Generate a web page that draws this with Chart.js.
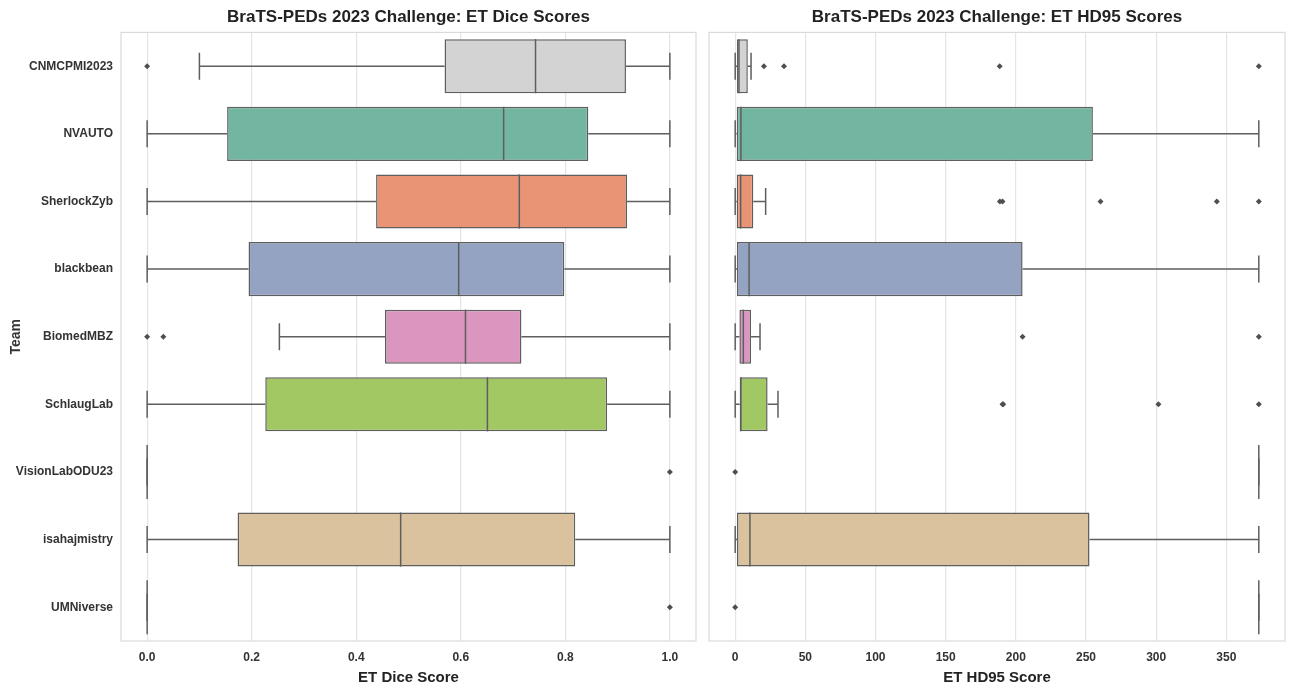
<!DOCTYPE html>
<html>
<head>
<meta charset="utf-8">
<script src="https://cdn.jsdelivr.net/npm/chart.js@4/dist/chart.umd.min.js"></script>
<style>
  body { margin: 0; background: #fff; }
  #dice { position: absolute; left: 0; top: 0; }
  #hd95 { position: absolute; left: 700px; top: 0; }
</style>
</head>
<body>
<canvas id="dice" width="700" height="689"></canvas>
<canvas id="hd95" width="589" height="689"></canvas>
<script>
// teams, top to bottom
const teams = ['CNMCPMI2023', 'NVAUTO', 'SherlockZyb', 'blackbean', 'BiomedMBZ',
               'SchlaugLab', 'VisionLabODU23', 'isahajmistry', 'UMNiverse'];

// ET Dice box stats
const diceMin = [0.100, 0, 0, 0, 0.253, 0, 0, 0, 0];
const diceQ1  = [0.569, 0.153, 0.438, 0.194, 0.455, 0.226, 0, 0.173, 0];
const diceMed = [0.743, 0.682, 0.712, 0.596, 0.609, 0.651, 0, 0.485, 0];
const diceQ3  = [0.916, 0.844, 0.918, 0.798, 0.716, 0.880, 0, 0.819, 0];
const diceMax = [1, 1, 1, 1, 1, 1, 0, 1, 0];
const diceOutliers = [[0], [], [], [], [0, 0.031], [], [1], [], [1]];
const diceTicks = [0, 0.2, 0.4, 0.6, 0.8, 1.0];

// ET HD95 box stats
const hdMin = [0, 0, 0, 0, 0, 0, 373.13, 0, 373.13];
const hdQ1  = [1.3, 1.1, 1.1, 1.3, 3.0, 3.2, 373.13, 1.3, 373.13];
const hdMed = [2.7, 4.1, 3.9, 9.9, 5.8, 4.1, 373.13, 10.5, 373.13];
const hdQ3  = [9.0, 254.9, 12.9, 204.8, 11.3, 23.1, 373.13, 252.5, 373.13];
const hdMax = [11.3, 373.13, 21.7, 373.13, 17.7, 30.5, 373.13, 373.13, 373.13];
const hdOutliers = [[20.5, 34.8, 188.5, 373.13], [], [188.6, 190.5, 260.3, 343.2, 373.13], [],
                    [204.8, 373.13], [190.5, 191.0, 301.6, 373.13], [0], [], [0]];
const hdTicks = [0, 50, 100, 150, 200, 250, 300, 350];

const boxColors = ['#d3d3d3', '#72b6a1', '#e99575', '#95a3c3', '#db96c0',
                   '#a2c864', '#d6c46a', '#dbc29e', '#b3b3b3'];
const lineColor = '#5e5e5e';
const FONT = "'Liberation Sans Narrow', 'Liberation Sans', Arial, sans-serif";

Chart.defaults.font.family = FONT;
Chart.defaults.color = '#333';

function boxChart(id, s) {
  const points = [];
  s.outliers.forEach((vals, i) => vals.forEach(v => points.push({x: v, y: teams[i]})));

  // whiskers, caps, medians and the plot frame
  const boxLines = {
    id: 'boxLines',
    beforeDatasetsDraw(chart) {
      const {ctx, chartArea: a, scales: {x, y}} = chart;
      ctx.save();
      ctx.strokeStyle = '#dadada';
      ctx.lineWidth = 1.2;
      ctx.strokeRect(a.left, a.top, a.width, a.height);
      const half = (y.getPixelForValue(1) - y.getPixelForValue(0)) * 0.4;
      ctx.strokeStyle = lineColor;
      ctx.lineWidth = 1.5;
      teams.forEach((t, i) => {
        const yc = y.getPixelForValue(i);
        const pMin = x.getPixelForValue(s.min[i]);
        const pQ1 = x.getPixelForValue(s.q1[i]);
        const pQ3 = x.getPixelForValue(s.q3[i]);
        const pMax = x.getPixelForValue(s.max[i]);
        ctx.beginPath();
        ctx.moveTo(pMin, yc); ctx.lineTo(pQ1, yc);
        ctx.moveTo(pQ3, yc); ctx.lineTo(pMax, yc);
        ctx.moveTo(pMin, yc - half / 2); ctx.lineTo(pMin, yc + half / 2);
        ctx.moveTo(pMax, yc - half / 2); ctx.lineTo(pMax, yc + half / 2);
        ctx.stroke();
      });
      ctx.restore();
    },
    afterDatasetsDraw(chart) {
      const {ctx, scales: {x, y}} = chart;
      const half = (y.getPixelForValue(1) - y.getPixelForValue(0)) * 0.4;
      ctx.save();
      ctx.strokeStyle = lineColor;
      ctx.lineWidth = 1.5;
      teams.forEach((t, i) => {
        const yc = y.getPixelForValue(i);
        const pm = x.getPixelForValue(s.med[i]);
        ctx.beginPath();
        ctx.moveTo(pm, yc - half); ctx.lineTo(pm, yc + half);
        ctx.stroke();
      });
      ctx.restore();
    }
  };

  return new Chart(document.getElementById(id), {
    type: 'bar',
    data: {
      labels: teams,
      datasets: [{
        data: teams.map((t, i) => [s.q1[i], s.q3[i]]),
        backgroundColor: boxColors,
        borderColor: lineColor,
        borderWidth: 1.5,
        borderSkipped: false,
        barPercentage: 0.8,
        categoryPercentage: 1
      }, {
        type: 'scatter',
        data: points,
        pointStyle: 'rectRot',
        radius: 3,
        backgroundColor: '#4f4f4f',
        borderWidth: 0
      }]
    },
    options: {
      indexAxis: 'y',
      responsive: false,
      animation: false,
      layout: {padding: {top: 0, right: s.padRight, bottom: 0, left: 0}},
      plugins: {
        legend: {display: false},
        tooltip: {enabled: false},
        title: {
          display: true,
          text: s.title,
          fullSize: false,
          color: '#222',
          font: {size: 17, weight: 'bold'},
          padding: {top: 7, bottom: 5}
        }
      },
      scales: {
        x: {
          type: 'linear',
          min: s.xMin,
          max: s.xMax,
          afterBuildTicks: sc => { sc.ticks = s.ticks.map(v => ({value: v})); },
          afterFit: sc => { sc.height = 48; },
          ticks: {
            callback: s.fmt,
            font: {size: 12, weight: 'bold'},
            color: '#333',
            padding: 9
          },
          grid: {color: '#e4e4e4', lineWidth: 1.2, drawTicks: false},
          border: {display: false},
          title: {
            display: true,
            text: s.xTitle,
            color: '#222',
            font: {size: 15, weight: 'bold'},
            padding: {top: 0, bottom: 2}
          }
        },
        y: {
          type: 'category',
          offset: true,
          afterFit: sc => { sc.width = s.yWidth; },
          grid: {display: false, drawTicks: false},
          border: {display: false},
          ticks: {
            display: s.showLabels,
            font: {size: 12, weight: 'bold'},
            color: '#333',
            padding: 8
          },
          title: {
            display: s.showLabels,
            text: 'Team',
            color: '#333',
            font: {size: 14, weight: 'bold'},
            padding: {top: 8, bottom: 0}
          }
        }
      }
    },
    plugins: [boxLines]
  });
}

boxChart('dice', {
  title: 'BraTS-PEDs 2023 Challenge: ET Dice Scores',
  xTitle: 'ET Dice Score',
  min: diceMin, q1: diceQ1, med: diceMed, q3: diceQ3, max: diceMax,
  outliers: diceOutliers, ticks: diceTicks,
  xMin: -0.05, xMax: 1.05,
  fmt: v => v.toFixed(1),
  yWidth: 121, padRight: 2, showLabels: true
});

boxChart('hd95', {
  title: 'BraTS-PEDs 2023 Challenge: ET HD95 Scores',
  xTitle: 'ET HD95 Score',
  min: hdMin, q1: hdQ1, med: hdMed, q3: hdQ3, max: hdMax,
  outliers: hdOutliers, ticks: hdTicks,
  xMin: -18.66, xMax: 391.79,
  fmt: v => String(v),
  yWidth: 9, padRight: 1, showLabels: false
});
</script>
</body>
</html>
